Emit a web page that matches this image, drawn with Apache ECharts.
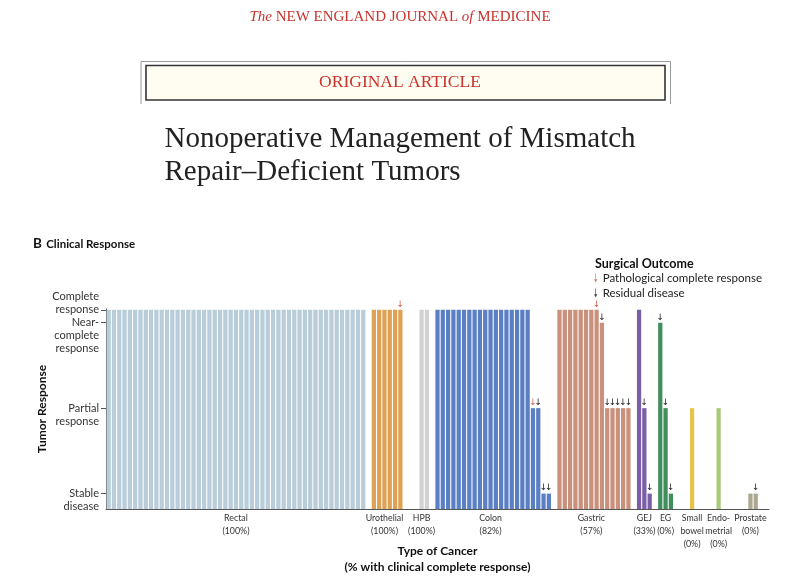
<!DOCTYPE html>
<html><head><meta charset="utf-8">
<script src="https://cdn.jsdelivr.net/npm/echarts@6/dist/echarts.min.js"></script>
<style>html,body{margin:0;padding:0;background:#fff}#c{width:800px;height:585px}</style>
</head><body><div id="c"></div>
<script>
// ---------------- DATA ----------------
const groupNames = ['Rectal','Urothelial','HPB','Colon','Gastric','GEJ','EG','Small bowel','Endometrial','Prostate'];
const groupLabels = ['Rectal\n(100%)','Urothelial\n(100%)','HPB\n(100%)','Colon\n(82%)','Gastric\n(57%)','GEJ\n(33%)','EG\n(0%)','Small\nbowel\n(0%)','Endo-\nmetrial\n(0%)','Prostate\n(0%)'];
// tumor response per patient: CR complete, NCR near-complete, PR partial, SD stable disease
const rectal = ['CR','CR','CR','CR','CR','CR','CR','CR','CR','CR',
                'CR','CR','CR','CR','CR','CR','CR','CR','CR','CR',
                'CR','CR','CR','CR','CR','CR','CR','CR','CR','CR',
                'CR','CR','CR','CR','CR','CR','CR','CR','CR','CR',
                'CR','CR','CR','CR','CR','CR','CR','CR','CR'];
const urothelial = ['CR','CR','CR','CR','CR','CR'];
const hpb = ['CR','CR'];
const colon = ['CR','CR','CR','CR','CR','CR','CR','CR','CR','CR',
               'CR','CR','CR','CR','CR','CR','CR','CR','PR','PR','SD','SD'];
const gastric = ['CR','CR','CR','CR','CR','CR','CR','CR','NCR','PR','PR','PR','PR','PR'];
const gej = ['CR','PR','SD'];
const eg = ['NCR','PR','SD'];
const smallBowel = ['PR'];
const endometrial = ['PR'];
const prostate = ['SD','SD'];
// surgical outcome per patient: P pathological complete response, R residual disease, '' none
const rectalSurgery = [];
const urothelialSurgery = ['','','','','','P'];
const hpbSurgery = ['',''];
const colonSurgery = ['','','','','','','','','','','','','','','','','','','P','R','R','R'];
const gastricSurgery = ['','','','','','','','P','R','R','R','R','R','R'];
const gejSurgery = ['','R','R'];
const egSurgery = ['R','R','R'];
const smallBowelSurgery = [''];
const endometrialSurgery = [''];
const prostateSurgery = ['','R'];
// y-axis response levels
const levelKeys = ['SD','PR','NCR','CR'];
const levelValues = [1, 2, 3, 3.15];
const levelLabels = ['Stable\ndisease','Partial\nresponse','Near-\ncomplete\nresponse','Complete\nresponse'];

// ---------------- STYLE / LAYOUT ----------------
const groupColors = ['#b8cdd9','#dfa254','#d2d2d2','#5b7fc3','#c9907c','#7a5ea8','#3f8e5c','#e6c44b','#a8c978','#aca890'];
const gapSlots = [1,3,1,1,1,1,3,4,5,2];
const RED = '#d65a4a', BLACK = '#1e1e1e';
const FONT = 'Lato';

const groups = [rectal, urothelial, hpb, colon, gastric, gej, eg, smallBowel, endometrial, prostate];
const surg = [rectalSurgery, urothelialSurgery, hpbSurgery, colonSurgery, gastricSurgery, gejSurgery, egSurgery, smallBowelSurgery, endometrialSurgery, prostateSurgery];
const levelValue = {};
levelKeys.forEach((k,i)=>levelValue[k]=levelValues[i]);

const cats = [], barData = [], labelAt = {};
groups.forEach((g, gi) => {
  const start = cats.length;
  g.forEach((r, pi) => {
    cats.push(groupNames[gi] + ' ' + (pi + 1));
    const item = { value: levelValue[r], itemStyle: { color: groupColors[gi] } };
    const s = surg[gi][pi] || '';
    if (s) {
      item.label = { show: true, position: 'top', distance: 1, formatter: '\u2193',
        color: s === 'P' ? RED : BLACK, fontFamily: 'DejaVu Sans', fontSize: 9 };
    }
    barData.push(item);
  });
  labelAt[start + Math.floor((g.length - 1) / 2)] = groupLabels[gi];
  for (let k = 0; k < gapSlots[gi]; k++) { cats.push('gap' + gi + '_' + k); barData.push('-'); }
});

function yLabel(v) {
  for (let i = 0; i < levelValues.length; i++) {
    if (Math.abs(v - levelValues[i]) < 1e-6) {
      const t = levelLabels[i];
      if (i === 3) return t + '\n ';
      if (i === 2) return ' \n \n' + t;
      return ' \n' + t;
    }
  }
  return '';
}

const arrowPath = 'path://M4.4,0 L5.6,0 L5.6,10 L8,10 L5,16 L2,10 L4.4,10 Z';
const lowerLevels = levelValues.slice(0, 3);
const topLevel = levelValues.slice(3);
const yLabelStyle = { formatter: yLabel, fontFamily: FONT, fontSize: 11, lineHeight: 13, color: '#333',
                      margin: 7, showMaxLabel: true, showMinLabel: true, hideOverlap: false };

const chart = echarts.init(document.getElementById('c'), null, { renderer: 'canvas' });
chart.setOption({
  backgroundColor: '#fff',
  animation: false,
  textStyle: { fontFamily: FONT },
  title: [
    { left: 28, top: 230, text: '{b|B} {t|Clinical Response}',
      textStyle: { rich: { b: { fontFamily: FONT, fontWeight: 'bold', fontSize: 13.5, color: '#111' },
                           t: { fontFamily: FONT, fontWeight: 'bold', fontSize: 11.5, color: '#111' } } } },
    { left: 590, top: 252, text: 'Surgical Outcome',
      textStyle: { fontFamily: FONT, fontWeight: 'bold', fontSize: 12.5, color: '#111' } }
  ],
  legend: {
    left: 589, top: 267, orient: 'vertical', itemWidth: 4, itemHeight: 9, itemGap: 3,
    textStyle: { fontFamily: FONT, fontSize: 11.5, color: '#222' },
    data: [{ name: 'Pathological complete response', icon: arrowPath },
           { name: 'Residual disease', icon: arrowPath }]
  },
  grid: { left: 106, right: 31, top: 309, bottom: 76 },
  xAxis: {
    type: 'category', data: cats, boundaryGap: true,
    axisLine: { lineStyle: { color: '#555', width: 1 } },
    axisTick: { show: false },
    axisLabel: {
      interval: (i) => (i in labelAt), formatter: (v, i) => labelAt[i] || '',
      fontFamily: FONT, fontSize: 8.8, lineHeight: 13, color: '#333', margin: 3
    },
    name: 'Type of Cancer\n(% with clinical complete response)',
    nameLocation: 'middle', nameGap: 34, nameMoveOverlap: false,
    nameTextStyle: { fontFamily: FONT, fontWeight: 'bold', fontSize: 12, lineHeight: 16, color: '#111' }
  },
  yAxis: [{
    type: 'value', min: 0.82, max: 3.16,
    axisLine: { show: true, lineStyle: { color: '#555', width: 1 } },
    splitLine: { show: false },
    axisTick: { show: true, length: 5, customValues: lowerLevels, lineStyle: { color: '#555' } },
    axisLabel: Object.assign({ customValues: lowerLevels }, yLabelStyle),
    name: 'Tumor Response', nameLocation: 'middle', nameGap: 58, nameRotate: 90, nameMoveOverlap: false,
    nameTextStyle: { fontFamily: FONT, fontWeight: 'bold', fontSize: 12, color: '#111' }
  }, {
    type: 'value', min: 0.82, max: 3.16, position: 'left',
    axisLine: { show: false }, splitLine: { show: false },
    axisTick: { show: true, length: 5, customValues: topLevel, lineStyle: { color: '#555' } },
    axisLabel: Object.assign({ customValues: topLevel }, yLabelStyle)
  }],
  series: [
    { type: 'bar', name: 'Patients', data: barData, barWidth: '80%', silent: true },
    { type: 'scatter', name: 'Pathological complete response', data: [], itemStyle: { color: RED } },
    { type: 'scatter', name: 'Residual disease', data: [], itemStyle: { color: BLACK } }
  ],
  graphic: [
    { type: 'text', left: 'center', top: 10, style: {
        text: '{i|The} NEW ENGLAND JOURNAL {i|of} MEDICINE',
        fill: '#c8332c', font: '15px "Liberation Serif"',
        rich: { i: { fontStyle: 'italic', fontFamily: 'Liberation Serif', fontSize: 15, fill: '#c8332c' } } } },
    { type: 'polyline', shape: { points: [[141, 104], [141, 61.5], [670.5, 61.5], [670.5, 104]] },
      style: { stroke: '#9a9a9a', lineWidth: 1, fill: null } },
    { type: 'rect', shape: { x: 146, y: 65.5, width: 519, height: 34.5 },
      style: { fill: '#fffdf2', stroke: '#333', lineWidth: 1.6 } },
    { type: 'text', left: 'center', top: 73, style: { text: 'ORIGINAL ARTICLE', fill: '#c8332c',
        font: '17.5px "Liberation Serif"' } },
    { type: 'text', left: 'center', top: 123, style: {
        text: 'Nonoperative Management of Mismatch\nRepair\u2013Deficient Tumors',
        fill: '#222', font: '29px "Liberation Serif"', lineHeight: 33, align: 'center' } }
  ]
});
</script></body></html>
